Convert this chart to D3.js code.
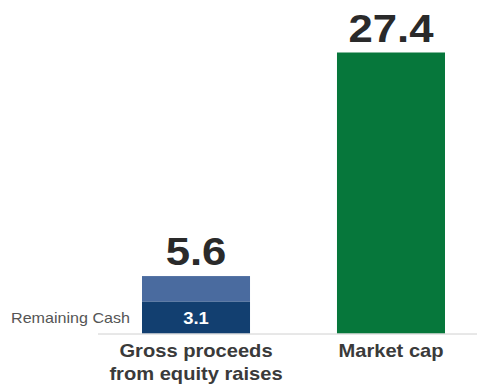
<!DOCTYPE html>
<html>
<head>
<meta charset="utf-8">
<script src="https://cdn.jsdelivr.net/npm/d3@7"></script>
<style>
  html, body { margin: 0; padding: 0; background: #fff; }
  svg { display: block; }
  text { font-family: "Liberation Sans", Arial, sans-serif; }
</style>
</head>
<body>
<svg id="chart" width="477" height="390"></svg>
<script>
// Chart data
const categories = ["Gross proceeds\nfrom equity raises", "Market cap"];
const totals = [5.6, 27.4];
const remainingCash = [3.1, null];
const remainingLabel = "Remaining Cash";

const colors = {
  upper: "#4a6b9f",
  lower: "#123f70",
  market: "#06773b",
  value: "#2a2a2a",
  category: "#3a3a3a",
  side: "#555555",
  axis: "#d0d0d0"
};

const W = 477, H = 390;
const svg = d3.select("#chart");
const baseY = 333.5;
const stretch = 1.15; // horizontal type stretch

const x = d3.scaleBand()
  .domain(categories)
  .range([142, 445])
  .paddingInner(0.446)
  .paddingOuter(0);

const y = d3.scaleLinear()
  .domain([0, 27.4])
  .range([baseY, 52.5]);

function label(g, tx, ty, str, opts) {
  return g.append("text")
    .attr("transform", `translate(${tx},${ty}) scale(${stretch},1)`)
    .attr("text-anchor", opts.anchor || "middle")
    .attr("font-size", opts.size)
    .attr("font-weight", opts.weight || "normal")
    .attr("fill", opts.fill)
    .text(str);
}

const g = svg.append("g");

// bars
categories.forEach((c, i) => {
  const bx = x(c), bw = x.bandwidth();
  const cx = bx + bw / 2;
  if (remainingCash[i] != null) {
    g.append("rect")
      .attr("x", bx).attr("width", bw)
      .attr("y", y(totals[i])).attr("height", y(remainingCash[i]) - y(totals[i]))
      .attr("fill", colors.upper);
    g.append("rect")
      .attr("x", bx).attr("width", bw)
      .attr("y", y(remainingCash[i])).attr("height", baseY - y(remainingCash[i]))
      .attr("fill", colors.lower);
    label(g, cx, (y(remainingCash[i]) + baseY) / 2 + 6, d3.format(".1f")(remainingCash[i]),
      { size: 16, weight: "bold", fill: "#ffffff" });
    label(g, bx - 12, (y(remainingCash[i]) + baseY) / 2 + 5, remainingLabel,
      { size: 14, fill: colors.side, anchor: "end" });
  } else {
    g.append("rect")
      .attr("x", bx).attr("width", bw)
      .attr("y", y(totals[i])).attr("height", baseY - y(totals[i]))
      .attr("fill", colors.market);
  }
  // total value label
  label(g, cx, y(totals[i]) - 11, d3.format(".1f")(totals[i]),
    { size: 38, weight: "bold", fill: colors.value });
  // category label
  c.split("\n").forEach((line, k) => {
    label(g, cx, 357 + k * 23, line, { size: 17.5, weight: "bold", fill: colors.category });
  });
});

// baseline
g.append("line")
  .attr("x1", 98).attr("x2", W)
  .attr("y1", baseY + 0.5).attr("y2", baseY + 0.5)
  .attr("stroke", colors.axis).attr("stroke-width", 1);
</script>
</body>
</html>
